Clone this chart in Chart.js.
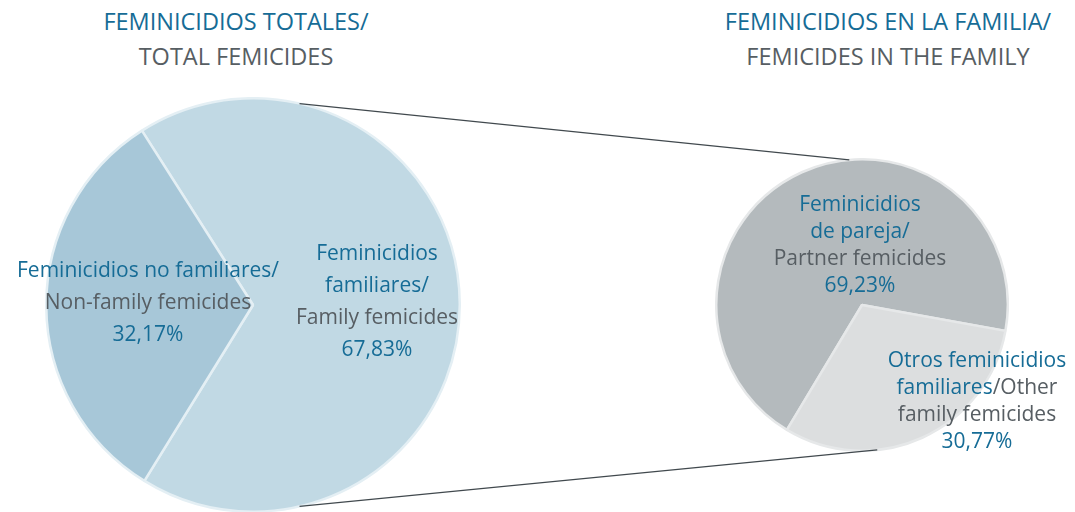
<!DOCTYPE html>
<html>
<head>
<meta charset="utf-8">
<script src="https://cdn.jsdelivr.net/npm/chart.js@4.4.0/dist/chart.umd.min.js"></script>
<style>
  html, body { margin: 0; padding: 0; background: #fff; }
  body { width: 1075px; height: 512px; position: relative; overflow: hidden;
         font-family: 'Open Sans', sans-serif; font-weight: 400; }
  .box { position: absolute; }
  .title { position: absolute; text-align: center; font-size: 23.5px; line-height: 35px; white-space: nowrap; transform: translateX(-50%); }
  .lbl { position: absolute; text-align: center; font-size: 21px; white-space: nowrap; transform: translateX(-50%); z-index: 3; }
  .b { color: #166c96; }
  .g { color: #575e63; }
  #links { position: absolute; left: 0; top: 0; z-index: 2; pointer-events: none; }
</style>
</head>
<body>
<canvas id="links" width="1075" height="512"></canvas>

<div class="title" style="left:236px; top:4px;">
  <span class="b">FEMINICIDIOS TOTALES/</span><br><span class="g">TOTAL FEMICIDES</span>
</div>
<div class="title" style="left:888px; top:4px;">
  <span class="b">FEMINICIDIOS EN LA FAMILIA/</span><br><span class="g">FEMICIDES IN THE FAMILY</span>
</div>

<div class="box" style="left:45px; top:97px; width:416px; height:416px;"><canvas id="left"></canvas></div>
<div class="box" style="left:715px; top:158px; width:294px; height:294px;"><canvas id="right"></canvas></div>

<div class="lbl" style="left:148px; top:253px; line-height:32px;">
  <span class="b">Feminicidios no familiares/</span><br>
  <span class="g">Non-family femicides</span><br>
  <span class="b" id="pctL1"></span>
</div>
<div class="lbl" style="left:377px; top:236px; line-height:32px;">
  <span class="b">Feminicidios<br>familiares/</span><br>
  <span class="g">Family femicides</span><br>
  <span class="b" id="pctL0"></span>
</div>
<div class="lbl" style="left:860px; top:190px; line-height:27px;">
  <span class="b">Feminicidios<br>de pareja/</span><br>
  <span class="g">Partner femicides</span><br>
  <span class="b" id="pctR0"></span>
</div>
<div class="lbl" style="left:977px; top:346px; line-height:27px;">
  <span class="b">Otros feminicidios<br>familiares</span><span class="g">/Other<br>family femicides</span><br>
  <span class="b" id="pctR1"></span>
</div>

<script>
// Total femicides split
const LEFT_LABELS = ['Feminicidios familiares', 'Feminicidios no familiares'];
const LEFT_VALUES = [67.83, 32.17];
const LEFT_COLORS = ['#c1d9e4', '#a7c7d8'];

// Femicides in the family split
const RIGHT_LABELS = ['Feminicidios de pareja', 'Otros feminicidios familiares'];
const RIGHT_VALUES = [69.23, 30.77];
const RIGHT_COLORS = ['#b4babd', '#dcdedf'];

const fmt = v => v.toFixed(2).replace('.', ',') + '%';
document.getElementById('pctL0').textContent = fmt(LEFT_VALUES[0]);
document.getElementById('pctL1').textContent = fmt(LEFT_VALUES[1]);
document.getElementById('pctR0').textContent = fmt(RIGHT_VALUES[0]);
document.getElementById('pctR1').textContent = fmt(RIGHT_VALUES[1]);

function makePie(id, labels, values, colors, border, rotation) {
  return new Chart(document.getElementById(id), {
    type: 'pie',
    data: {
      labels,
      datasets: [{
        data: values,
        backgroundColor: colors,
        borderColor: border,
        borderWidth: 2.5
      }]
    },
    options: {
      responsive: true,
      maintainAspectRatio: false,
      animation: false,
      rotation,
      layout: { padding: 0 },
      plugins: { legend: { display: false }, tooltip: { enabled: false } }
    }
  });
}

const left  = makePie('left',  LEFT_LABELS,  LEFT_VALUES,  LEFT_COLORS,  '#e4eff4', -32.5);
const right = makePie('right', RIGHT_LABELS, RIGHT_VALUES, RIGHT_COLORS, '#e6e8e9', 211);

// connector lines between the two pies
function pieGeom(chart) {
  const arc = chart.getDatasetMeta(0).data[0];
  const r = chart.canvas.getBoundingClientRect();
  return { x: r.left + arc.x, y: r.top + arc.y, r: arc.outerRadius };
}
function onEdge(g, deg) {
  const a = (deg - 90) * Math.PI / 180;
  return [g.x + g.r * Math.cos(a), g.y + g.r * Math.sin(a)];
}
const gl = pieGeom(left), gr = pieGeom(right);
const ctx = document.getElementById('links').getContext('2d');
ctx.strokeStyle = '#41494e';
ctx.lineWidth = 1.2;
[[13, -5], [167, 174]].forEach(([a, b]) => {
  const p = onEdge(gl, a), q = onEdge(gr, b);
  ctx.beginPath();
  ctx.moveTo(p[0], p[1]);
  ctx.lineTo(q[0], q[1]);
  ctx.stroke();
});
</script>
</body>
</html>
